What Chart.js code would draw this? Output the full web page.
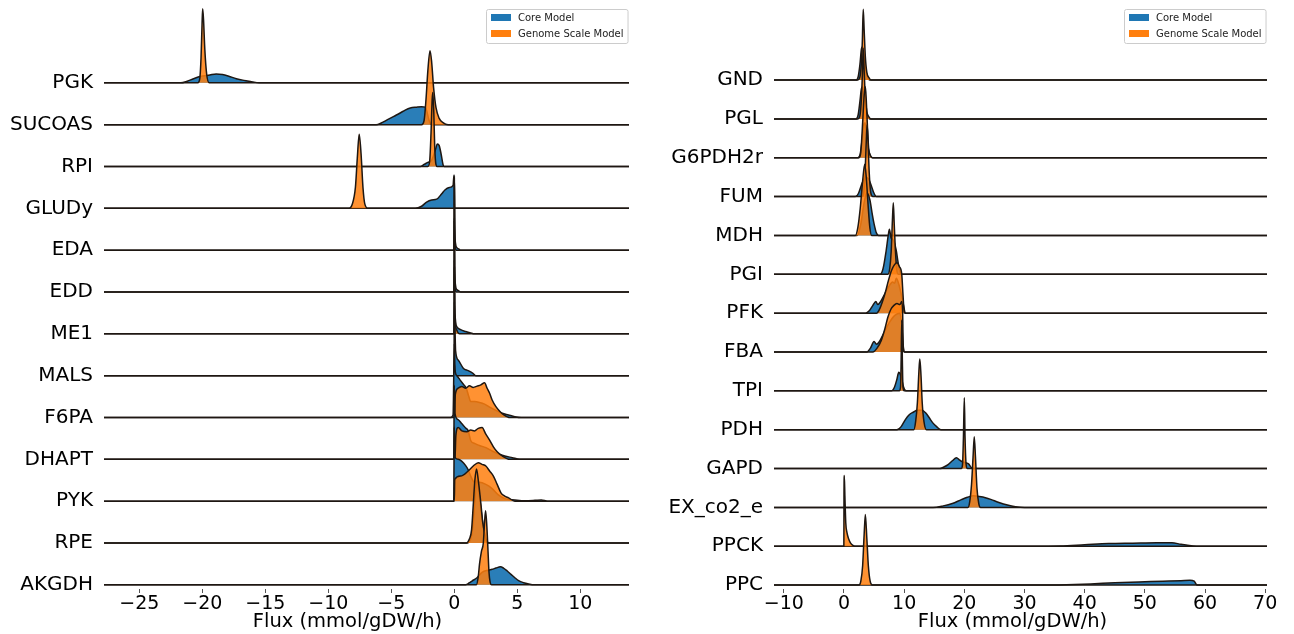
<!DOCTYPE html>
<html>
<head>
<meta charset="utf-8">
<script src="https://cdn.jsdelivr.net/npm/chart.js@4.4.1/dist/chart.umd.min.js"></script>
<style>
  html, body { margin: 0; padding: 0; background: #fff; }
  body { width: 1294px; height: 634px; position: relative; overflow: hidden; }
  canvas { position: absolute; top: 0; }
  #left { left: 0; }
  #right { left: 650px; }
</style>
</head>
<body>
<canvas id="left" width="640" height="634"></canvas>
<canvas id="right" width="644" height="634"></canvas>
<script>
var leftNames = ['PGK', 'SUCOAS', 'RPI', 'GLUDy', 'EDA', 'EDD', 'ME1', 'MALS', 'F6PA', 'DHAPT', 'PYK', 'RPE', 'AKGDH'];
var rightNames = ['GND', 'PGL', 'G6PDH2r', 'FUM', 'MDH', 'PGI', 'PFK', 'FBA', 'TPI', 'PDH', 'GAPD', 'EX_co2_e', 'PPCK', 'PPC'];
var leftTicks = [-25, -20, -15, -10, -5, 0, 5, 10];
var rightTicks = [-10, 0, 10, 20, 30, 40, 50, 60, 70];
var xTitle = 'Flux (mmol/gDW/h)';
var legendNames = ['Core Model', 'Genome Scale Model'];

// density outlines per reaction: [flux, height in row spacings]
var leftCore = [
  [[-21.7,0],[-21.2,0.04],[-20.7,0.1],[-20.2,0.15],[-19.4,0.19],[-18.9,0.215],[-18.4,0.2],[-17.9,0.16],[-17.3,0.1],[-16.7,0.06],[-16.1,0.03],[-15.5,0]],
  [[-6.2,0],[-5.8,0.04],[-5.3,0.12],[-4.8,0.2],[-4.3,0.28],[-3.9,0.35],[-3.5,0.4],[-3.0,0.42],[-2.6,0.43],[-2.3,0.42],[-2.0,0.1],[-1.8,0]],
  [[-2.7,0],[-2.4,0.05],[-2.1,0.1],[-1.8,0.15],[-1.5,0.4],[-1.35,0.54],[-1.2,0.5],[-1.05,0.3],[-0.9,0.05],[-0.8,0]],
  [[-3.1,0],[-2.6,0.05],[-2.2,0.15],[-1.8,0.2],[-1.4,0.22],[-1.0,0.35],[-0.75,0.44],[-0.4,0.5],[-0.1,0.55],[-0.03,0.79],[0,0.79],[0.01,0]],
  [[-0.03,0],[0,1.77],[0.04,0.5],[0.1,0.15],[0.2,0.06],[0.35,0.03],[0.5,0]],
  [[-0.03,0],[0,1.77],[0.04,0.5],[0.1,0.15],[0.2,0.06],[0.35,0.03],[0.5,0]],
  [[-0.03,0],[0,1.77],[0.05,0.5],[0.22,0.16],[0.5,0.1],[0.9,0.055],[1.3,0.02],[1.6,0]],
  [[-0.03,0],[0,1.77],[0.1,0.6],[0.32,0.37],[0.71,0.18],[1.1,0.12],[1.5,0.05],[1.7,0]],
  [[-0.3,0],[-0.1,0.06],[0,1.77],[0.05,1.15],[0.2,1.0],[0.45,0.9],[0.7,0.8],[0.95,0.7],[1.15,0.5],[1.3,0.38],[1.6,0.38],[2.0,0.36],[2.4,0.32],[2.8,0.25],[3.3,0.17],[3.8,0.1],[4.3,0.06],[4.8,0.02],[5.3,0]],
  [[-0.05,0],[0,1.77],[0.05,1.1],[0.3,0.95],[0.6,0.85],[0.9,0.75],[1.1,0.68],[1.3,0.45],[1.6,0.38],[2.0,0.33],[2.5,0.28],[3.0,0.2],[3.5,0.13],[4.0,0.08],[4.6,0.04],[5.2,0]],
  [[-0.05,0],[0,1.77],[0.05,1.05],[0.3,1.0],[0.6,0.95],[0.9,0.85],[1.1,0.75],[1.3,0.6],[1.6,0.45],[2.0,0.45],[2.5,0.4],[3.0,0.3],[3.5,0.15],[4.0,0.06],[4.8,0.03],[5.6,0.01],[6.4,0.02],[6.9,0.03],[7.4,0]],
  [[1.0,0],[1.3,0.1],[1.5,0.5],[1.7,1.3],[1.8,1.5],[2.0,1.1],[2.2,0.6],[2.4,0.2],[2.6,0.03],[2.8,0]],
  [[0.9,0],[1.2,0.05],[1.4,0.09],[1.8,0.17],[2.2,0.3],[2.7,0.35],[3.0,0.37],[3.3,0.4],[3.65,0.43],[3.9,0.4],[4.2,0.33],[4.5,0.25],[4.8,0.17],[5.1,0.1],[5.5,0.05],[5.9,0.02],[6.3,0]]
];
var leftGenome = [
  [[-20.35,0],[-20.2,0.1],[-20.1,0.6],[-20.02,1.4],[-19.97,1.77],[-19.9,1.5],[-19.8,0.8],[-19.65,0.2],[-19.45,0]],
  [[-2.6,0],[-2.4,0.1],[-2.25,0.6],[-2.1,1.3],[-1.93,1.77],[-1.8,1.5],[-1.65,0.9],[-1.45,0.4],[-1.2,0.15],[-0.9,0.05],[-0.5,0]],
  [[-2.1,0],[-1.95,0.15],[-1.85,0.8],[-1.76,1.6],[-1.71,1.77],[-1.63,1.3],[-1.56,0.5],[-1.46,0.05],[-1.36,0]],
  [[-8.4,0],[-8.1,0.1],[-7.85,0.5],[-7.7,1.2],[-7.55,1.77],[-7.4,1.3],[-7.25,0.5],[-7.1,0.1],[-6.85,0]],
  [[-0.02,0],[0,1.7],[0.03,0.3],[0.08,0.05],[0.15,0]],
  [[-0.02,0],[0,1.7],[0.03,0.3],[0.08,0.05],[0.15,0]],
  [[-0.02,0],[0,1.6],[0.05,0.3],[0.15,0.12],[0.25,0.05],[0.4,0]],
  [[-0.02,0],[0,0.3],[0.05,0.05],[0.15,0]],
  [[0,0],[0.08,0.55],[0.3,0.7],[0.6,0.74],[0.9,0.7],[1.2,0.76],[1.5,0.72],[1.8,0.75],[2.1,0.78],[2.4,0.83],[2.6,0.7],[2.8,0.58],[3.0,0.42],[3.3,0.26],[3.6,0.15],[3.9,0.07],[4.4,0]],
  [[0.05,0],[0.12,0.56],[0.3,0.76],[0.6,0.68],[1.0,0.66],[1.3,0.7],[1.6,0.68],[1.9,0.74],[2.2,0.76],[2.5,0.6],[2.8,0.46],[3.1,0.3],[3.4,0.18],[3.8,0.08],[4.4,0]],
  [[0,0],[0.03,0.52],[0.5,0.6],[1.1,0.72],[1.5,0.84],[1.9,0.92],[2.2,0.88],[2.5,0.84],[2.8,0.72],[3.1,0.6],[3.4,0.4],[3.7,0.2],[4.0,0.12],[4.3,0.08],[4.8,0]],
  [[0.95,0],[1.2,0.1],[1.37,0.32],[1.5,0.9],[1.63,1.5],[1.76,1.77],[1.9,1.5],[2.1,0.96],[2.25,0.5],[2.4,0.24],[2.6,0]],
  [[1.75,0],[1.9,0.2],[2.0,0.5],[2.15,0.8],[2.3,1.0],[2.4,1.5],[2.48,1.77],[2.58,1.4],[2.66,0.9],[2.75,0.3],[2.85,0.05],[2.95,0]]
];
var rightCore = [
  [[2.0,0],[2.35,0.08],[2.65,0.4],[2.9,0.8],[3.1,0.86],[3.3,0.6],[3.55,0.3],[3.85,0.1],[4.3,0]],
  [[2.0,0],[2.35,0.1],[2.65,0.45],[2.9,0.78],[3.1,0.82],[3.3,0.62],[3.55,0.28],[3.85,0.08],[4.3,0]],
  [[2.3,0],[2.7,0.1],[3.0,0.45],[3.3,0.85],[3.5,0.9],[3.75,0.6],[4.0,0.25],[4.4,0.05],[4.8,0]],
  [[1.9,0],[2.4,0.08],[2.9,0.3],[3.3,0.45],[3.7,0.5],[4.1,0.45],[4.5,0.3],[4.9,0.12],[5.4,0]],
  [[2.2,0],[2.8,0.3],[3.3,0.8],[3.8,1.1],[4.3,0.92],[4.7,0.55],[5.0,0.3],[5.4,0.06],[5.8,0]],
  [[6.0,0],[6.5,0.15],[7.0,0.6],[7.35,1.0],[7.55,1.16],[7.8,0.95],[8.1,0.9],[8.4,0.8],[8.7,0.6],[9.0,0.3],[9.3,0.08],[9.6,0]],
  [[3.6,0],[4.2,0.06],[4.8,0.2],[5.3,0.3],[5.6,0.22],[6.1,0.3],[6.8,0.5],[7.5,0.7],[8.1,0.8],[8.4,0.77],[8.7,0.9],[9.1,0.75],[9.5,0.5],[9.9,0.2],[10.2,0]],
  [[3.8,0],[4.4,0.1],[5.0,0.27],[5.4,0.2],[5.8,0.25],[6.5,0.45],[7.5,0.75],[8.5,0.95],[9.3,1.0],[9.6,0.7],[9.85,0.15],[10.1,0]],
  [[7.9,0],[8.4,0.1],[8.8,0.3],[9.1,0.48],[9.3,0.45],[9.6,0.3],[9.9,0.1],[10.3,0]],
  [[8.8,0],[9.5,0.08],[10.2,0.26],[10.8,0.38],[11.5,0.45],[12.2,0.5],[12.9,0.5],[13.6,0.43],[14.2,0.3],[14.8,0.17],[15.4,0.08],[16.1,0]],
  [[15.9,0],[16.6,0.04],[17.3,0.1],[18.0,0.2],[18.7,0.28],[19.2,0.22],[19.6,0.18],[20.2,0.15],[20.7,0.12],[21.2,0.02],[21.5,0]],
  [[14.8,0],[16.5,0.04],[18,0.1],[19.5,0.2],[20.5,0.26],[21.5,0.3],[22.5,0.28],[23.5,0.25],[24.5,0.2],[25.5,0.14],[26.5,0.09],[27.5,0.05],[28.5,0.02],[30,0]],
  [[32,0],[36,0.01],[40,0.04],[44,0.07],[48,0.08],[52,0.09],[54.5,0.09],[56,0.05],[58,0.01],[59,0]],
  [[33,0],[37,0.01],[41,0.03],[45,0.06],[49,0.08],[53,0.1],[56,0.115],[57.5,0.125],[58.2,0.1],[58.6,0.01],[59,0]]
];
var rightGenome = [
  [[2.3,0],[2.6,0.05],[2.85,0.35],[3.05,1.0],[3.2,1.82],[3.35,1.3],[3.55,0.6],[3.8,0.2],[4.2,0.05],[4.5,0]],
  [[2.3,0],[2.6,0.05],[2.85,0.4],[3.05,1.1],[3.2,1.82],[3.35,1.25],[3.55,0.55],[3.8,0.18],[4.2,0.04],[4.5,0]],
  [[2.5,0],[2.8,0.15],[3.1,0.9],[3.35,1.6],[3.55,1.83],[3.7,1.5],[3.9,0.8],[4.1,0.25],[4.4,0.05],[4.7,0]],
  [[3.0,0],[3.35,0.2],[3.55,0.8],[3.75,1.6],[3.85,1.85],[4.0,1.4],[4.2,0.6],[4.45,0.1],[4.8,0]],
  [[1.9,0],[2.3,0.2],[2.7,0.7],[3.1,1.4],[3.45,1.83],[3.7,1.5],[4.0,0.8],[4.3,0.2],[4.6,0]],
  [[7.3,0],[7.6,0.15],[7.85,0.6],[8.05,1.4],[8.2,1.84],[8.35,1.3],[8.55,0.6],[8.75,0.15],[9.0,0]],
  [[5.4,0],[5.9,0.1],[6.4,0.3],[6.9,0.55],[7.4,0.85],[7.9,1.1],[8.4,1.25],[8.8,1.3],[9.2,1.2],[9.6,1.0],[9.8,0.5],[10.0,0.05],[10.2,0]],
  [[4.8,0],[5.5,0.1],[6.2,0.3],[6.8,0.6],[7.3,0.9],[7.8,1.1],[8.3,1.2],[8.8,1.25],[9.3,1.22],[9.6,1.3],[9.75,1.0],[9.85,0.1],[10.0,0]],
  [[9.2,0],[9.4,0.1],[9.5,0.8],[9.6,1.82],[9.7,0.8],[9.8,0.1],[10.0,0]],
  [[11.6,0],[11.9,0.2],[12.2,0.7],[12.45,1.5],[12.6,1.82],[12.8,1.4],[13.0,0.7],[13.3,0.2],[13.7,0]],
  [[19.5,0],[19.7,0.1],[19.85,0.8],[20.0,1.82],[20.12,0.8],[20.3,0.1],[20.5,0]],
  [[20.6,0],[20.9,0.15],[21.2,0.6],[21.45,1.3],[21.65,1.82],[21.85,1.3],[22.1,0.5],[22.4,0.1],[22.7,0]],
  [[-0.02,0],[0,1.2],[0.05,1.82],[0.15,1.3],[0.3,0.6],[0.5,0.35],[0.8,0.18],[1.1,0.08],[1.5,0.02],[1.8,0]],
  [[2.5,0],[2.8,0.1],[3.1,0.5],[3.35,1.3],[3.55,1.82],[3.8,1.2],[4.05,0.5],[4.35,0.1],[4.7,0]]
];

var blue = '#1f77b4', orange = '#ff7f0e';
var blueFill = 'rgba(31,119,180,0.95)', orangeFill = 'rgba(255,127,14,0.85)';
var edge = '#1e1712';
var font = 'DejaVu Sans';

// one filled line per model and reaction, lower rows drawn on top
function ridgeSets(names, core, genome, xmin, xmax) {
  var n = names.length, sets = [];
  names.forEach(function(name, i) {
    var off = n - 1 - i;
    [[core[i], blueFill, 1], [genome[i], orangeFill, 0]].forEach(function(c) {
      var pts = [{x: xmin, y: off}];
      c[0].forEach(function(p) { pts.push({x: p[0], y: off + p[1]}); });
      pts.push({x: xmax, y: off});
      sets.push({
        label: name,
        data: pts,
        fill: {value: off},
        backgroundColor: c[1],
        borderColor: edge,
        borderWidth: 1.5,
        pointRadius: 0,
        cubicInterpolationMode: 'monotone',
        order: 2 * off + c[2]
      });
    });
  });
  return sets;
}

var ridgeExtras = {
  id: 'ridgeExtras',
  afterDraw: function(chart) {
    var ctx = chart.ctx, a = chart.chartArea, o = chart.options.plugins.ridgeExtras;
    ctx.save();
    // legend
    ctx.font = '10px "' + font + '"';
    var tw = Math.max.apply(null, legendNames.map(function(t) { return ctx.measureText(t).width; }));
    var w = tw + 36, h = 34;
    var x0 = Math.round(a.right - o.legendRight - w), y0 = o.legendTop;
    ctx.beginPath();
    ctx.roundRect(x0 + 0.5, y0 + 0.5, w, h, 2);
    ctx.fillStyle = 'rgba(255,255,255,0.8)';
    ctx.fill();
    ctx.strokeStyle = '#cccccc';
    ctx.lineWidth = 1;
    ctx.stroke();
    [blue, orange].forEach(function(c, i) {
      ctx.fillStyle = c;
      ctx.fillRect(x0 + 5, y0 + 5 + i * 16, 20, 7);
      ctx.fillStyle = '#222';
      ctx.textBaseline = 'middle';
      ctx.textAlign = 'left';
      ctx.fillText(legendNames[i], x0 + 32, y0 + 9 + i * 16);
    });
    // x axis title
    ctx.font = '19.5px "' + font + '"';
    ctx.fillStyle = '#000';
    ctx.textAlign = 'center';
    ctx.textBaseline = 'middle';
    ctx.fillText(xTitle, (a.left + a.right) / 2 + o.titleShift, o.titleY);
    ctx.restore();
  }
};

function makeChart(id, names, core, genome, xmin, xmax, ymax, ticks, yWidth, padRight, titleShift) {
  return new Chart(document.getElementById(id), {
    type: 'line',
    data: { datasets: ridgeSets(names, core, genome, xmin, xmax) },
    options: {
      responsive: false,
      animation: false,
      events: [],
      layout: { padding: { top: 8, right: padRight, left: 0, bottom: 0 } },
      plugins: {
        legend: { display: false },
        tooltip: { enabled: false },
        ridgeExtras: { legendRight: 1, legendTop: 9, titleShift: titleShift, titleY: 622 }
      },
      scales: {
        x: {
          type: 'linear', min: xmin, max: xmax,
          afterBuildTicks: function(s) { s.ticks = ticks.map(function(v) { return {value: v}; }); },
          afterFit: function(s) { s.height = 45; s.paddingLeft = 0; s.paddingRight = 0; },
          ticks: {
            font: { family: font, size: 19 }, color: '#000', padding: 0,
            maxRotation: 0, autoSkip: false,
            callback: function(v) { return v < 0 ? '\u2212' + (-v) : '' + v; }
          },
          grid: { drawOnChartArea: false, drawTicks: true, tickLength: 4, color: '#555' },
          border: { display: false }
        },
        y: {
          type: 'linear', min: -0.1, max: ymax,
          afterBuildTicks: function(s) { s.ticks = names.map(function(nm, i) { return {value: names.length - 1 - i}; }); },
          afterFit: function(s) { s.width = yWidth; s.paddingTop = 0; s.paddingBottom = 0; },
          ticks: {
            font: { family: font, size: 20 }, color: '#000', padding: 11, autoSkip: false,
            callback: function(v) { return names[names.length - 1 - v]; }
          },
          grid: { display: false, drawTicks: false },
          border: { display: false }
        }
      }
    },
    plugins: [ridgeExtras]
  });
}

makeChart('left', leftNames, leftCore, leftGenome, -27.8, 13.86, 13.79, leftTicks, 104, 11, -19);
makeChart('right', rightNames, rightCore, rightGenome, -11.63, 70.3, 14.855, rightTicks, 124, 27, -8);
</script>
</body>
</html>
